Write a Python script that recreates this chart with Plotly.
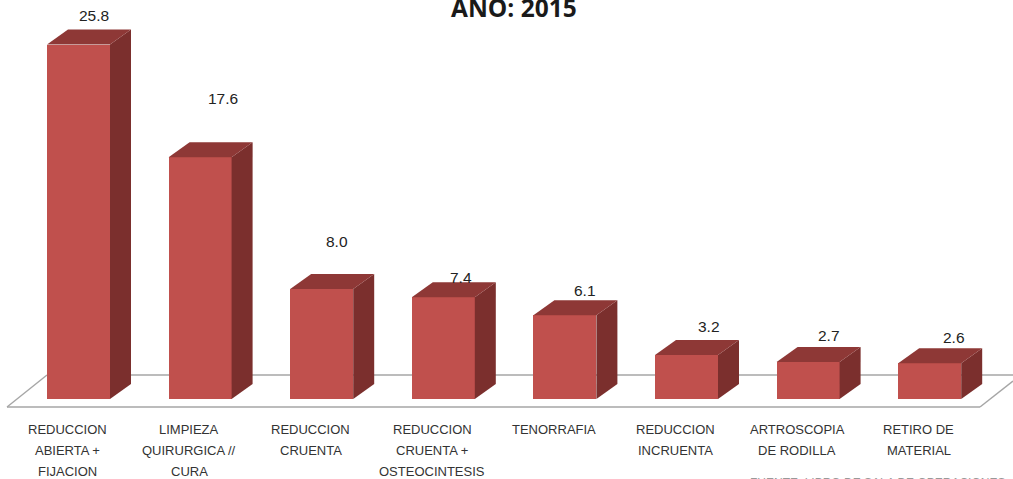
import plotly.graph_objects as go

categories = ["REDUCCION\nABIERTA +\nFIJACION", "LIMPIEZA\nQUIRURGICA //\nCURA", "REDUCCION\nCRUENTA",
              "REDUCCION\nCRUENTA +\nOSTEOCINTESIS", "TENORRAFIA", "REDUCCION\nINCRUENTA",
              "ARTROSCOPIA\nDE RODILLA", "RETIRO DE\nMATERIAL"]
values = [25.8, 17.6, 8.0, 7.4, 6.1, 3.2, 2.7, 2.6]
label_text = ["25.8", "17.6", "8.0", "7.4", "6.1", "3.2", "2.7", "2.6"]
label_dx_px = [15, 23, 15, 18, 20, 22, 21, 24]
label_dy_px = [29, 59, 48, 20, 25, 29, 26, 26]

W, H = 1013, 479
STEP = 121.6        # px per category
CX0 = 78.5          # px centre of first category
PX_PER_UNIT = 13.74
BASE_PX = 399
BAR_W = 63 / STEP
DX = 21 / STEP
DY = 15 / PX_PER_UNIT
HALF = BAR_W / 2
FRONT, TOP, SIDE = "#C0504D", "#8E3836", "#7B2F2D"
INK = "#333333"

x_range = [-CX0 / STEP, (W - CX0) / STEP]
y_range = [-(H - BASE_PX) / PX_PER_UNIT, BASE_PX / PX_PER_UNIT]
xs = list(range(len(categories)))

fig = go.Figure()
fig.add_trace(go.Bar(x=xs, y=values, width=BAR_W, marker=dict(color=FRONT, line=dict(width=0)),
                     hoverinfo="skip", showlegend=False))
for x, v in zip(xs, values):
    r = x + HALF
    l = x - HALF
    fig.add_trace(go.Scatter(x=[r, r + DX, r + DX, r, r], y=[0, DY, v + DY, v, 0], mode="lines",
                             fill="toself", fillcolor=SIDE, line=dict(width=0), hoverinfo="skip", showlegend=False))
    fig.add_trace(go.Scatter(x=[l, l + DX, r + DX, r, l], y=[v, v + DY, v + DY, v, v], mode="lines",
                             fill="toself", fillcolor=TOP, line=dict(width=0), hoverinfo="skip", showlegend=False))


def floor(x0, y0, x1, y1):
    fig.add_shape(type="line", xref="paper", yref="paper", layer="below",
                  x0=x0 / W, x1=x1 / W, y0=1 - y0 / H, y1=1 - y1 / H,
                  line=dict(color="#A6A6A6", width=1.5))


floor(7, 407, 980, 407)
floor(7, 407, 47, 375)
floor(47, 375, 1013, 375)
floor(980, 407, 1013, 381)

for x, v, t, dx, dy in zip(xs, values, label_text, label_dx_px, label_dy_px):
    fig.add_annotation(x=x, y=v, text=t, showarrow=False, xshift=dx, yshift=dy,
                       font=dict(family="Liberation Sans", size=15.5, color="#222222"))

for x, c in zip(xs, categories):
    for i, line in enumerate(c.split("\n")):
        fig.add_annotation(x=x, y=0, text=line, showarrow=False, xshift=-11, yshift=-(30 + 21 * i),
                           font=dict(family="Liberation Sans", size=13, color=INK))

fig.add_annotation(xref="paper", yref="paper", x=514 / W, y=1 - 8 / H, xanchor="center", yanchor="middle",
                   text="<b>AÑO: 2015</b>", showarrow=False,
                   font=dict(family="Open Sans", size=24.5, color="#1a1a1a"))
fig.add_annotation(xref="paper", yref="paper", x=877 / W, y=1 - 483 / H, xanchor="center", yanchor="middle",
                   text="FUENTE: LIBRO DE SALA DE OPERACIONES", showarrow=False,
                   font=dict(family="Liberation Sans", size=12, color="#999999"))

fig.update_layout(width=W, height=H, margin=dict(l=0, r=0, t=0, b=0), plot_bgcolor="white", paper_bgcolor="white",
                  xaxis=dict(range=x_range, visible=False, fixedrange=True),
                  yaxis=dict(range=y_range, visible=False, fixedrange=True),
                  bargap=0)
fig.write_html("out.html", config=dict(displayModeBar=False),
               post_script="document.body.style.margin='0';document.body.style.overflow='hidden';")
